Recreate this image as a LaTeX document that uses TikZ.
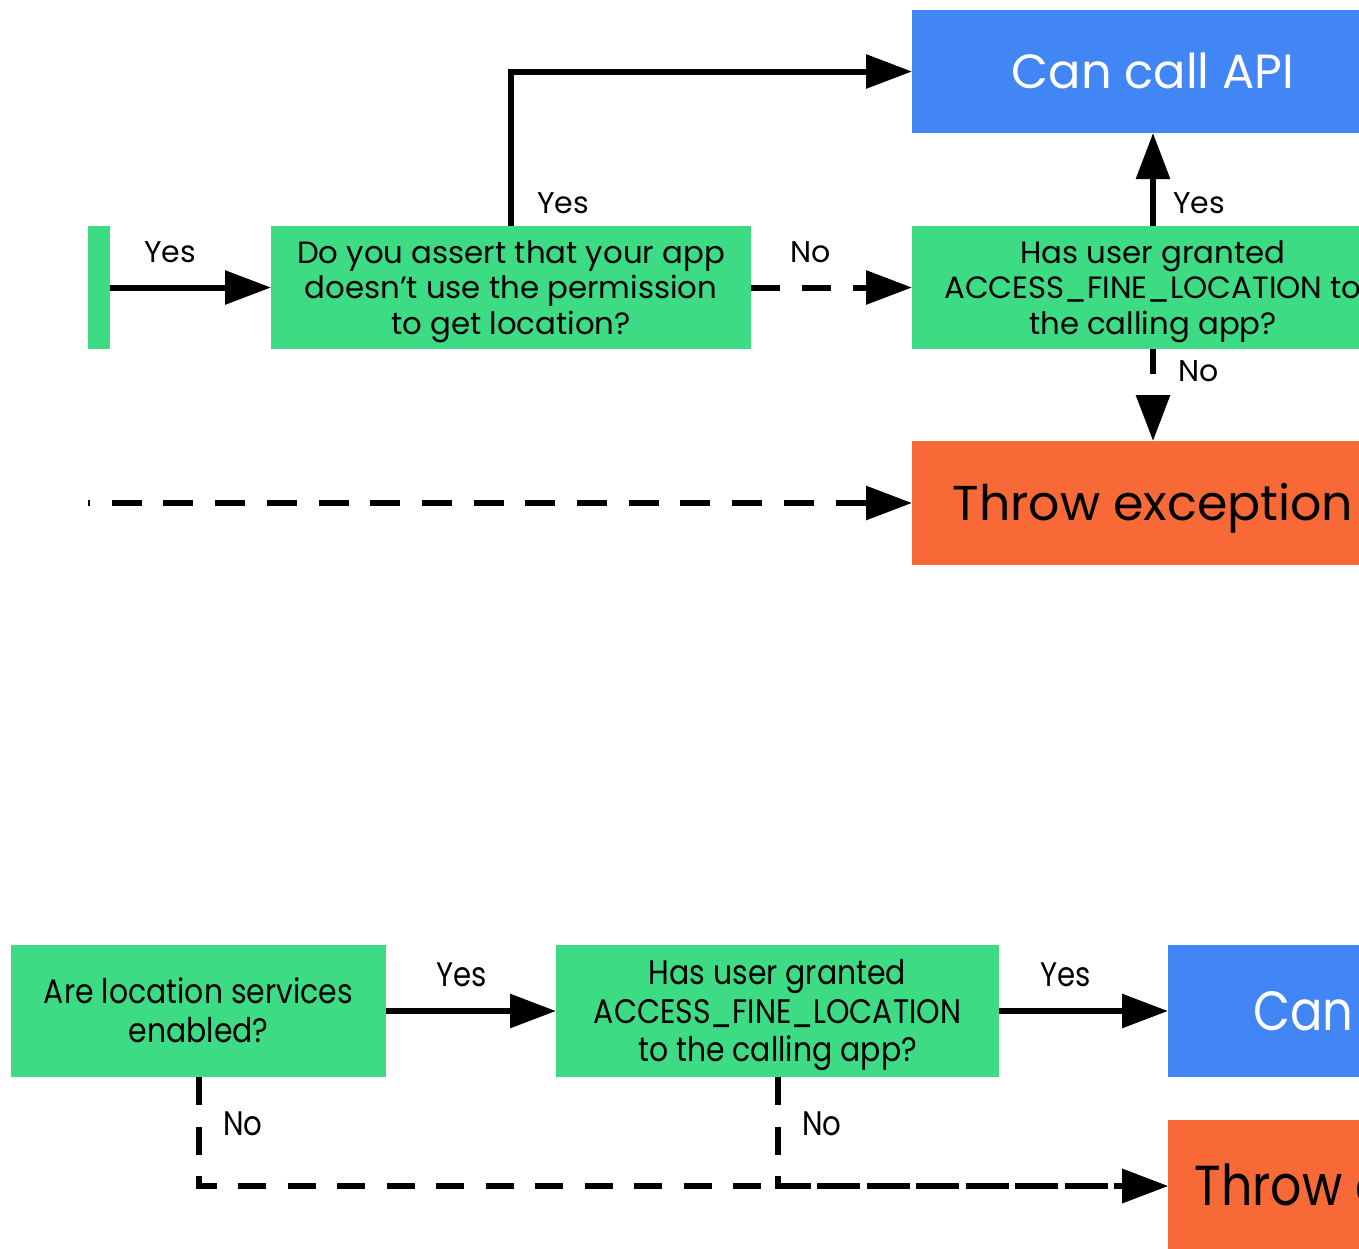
\documentclass[tikz,border=0pt]{standalone}
\usepackage{fontspec}
\setmainfont{Poppins}
\usetikzlibrary{arrows.meta}
\definecolor{dgreen}{HTML}{3DDC84}
\definecolor{dblue}{HTML}{4285F4}
\definecolor{dorange}{HTML}{F76936}

% upper chart text blocks, lowered onto the cap line (reported size kept)
\newcommand{\toplines}[1]{\raisebox{-4pt}[\height][\depth]{\fontsize{30.8}{35.5}\selectfont\begin{tabular}{@{}c@{}}#1\end{tabular}}}
% lower chart uses a taller, condensed face
\newcommand{\botlines}[1]{\raisebox{-4.5pt}[\height][\depth]{\scalebox{0.88}[1]{\fontsize{34}{38.5}\selectfont\begin{tabular}{@{}c@{}}#1\end{tabular}}}}
\newcommand{\botlabel}[1]{\scalebox{0.86}[1]{\fontsize{34}{38.5}\selectfont #1}}
\newcommand{\botbig}[2]{\scalebox{0.87}[1]{\fontsize{#1}{60}\selectfont #2}}

\begin{document}
\begin{tikzpicture}[x=1pt, y=-1pt,
  box/.style={inner sep=0pt, outer sep=0pt, draw=none, align=center},
  decision/.style={box, fill=dgreen},
  flow/.style={line width=6pt, -{Triangle[length=46pt,width=33pt]}},
  dashflow/.style={flow, dash pattern=on 29pt off 22pt},
  lbl/.style={inner sep=0pt, font=\fontsize{30}{36}\selectfont, text height=21pt, text depth=0pt},
  blbl/.style={inner sep=0pt, text height=23.8pt, text depth=0pt}]
\useasboundingbox (0,0) rectangle (1359,1248);
\clip (0,0) rectangle (1359,1248);

% ---------- upper chart ----------
\node[box, fill=dgreen, minimum width=22pt, minimum height=123pt] (prev) at (99,287.5) {};
\node[decision, minimum width=480pt, minimum height=123pt] (assert) at (511,287.5)
  {\toplines{Do you assert that your app\\doesn’t use the permission\\to get location?}};
\node[decision, minimum width=482pt, minimum height=123pt] (fine) at (1153,287.5)
  {\toplines{Has user granted\\ACCESS\_FINE\_LOCATION to\\the calling app?}};
\node[box, fill=dblue, text=white, font=\fontsize{48}{56}\selectfont, text height=33.6pt, text depth=0pt,
  minimum width=482pt, minimum height=123pt] (api) at (1153,71.5) {Can call API};
\node[box, fill=dorange, font=\fontsize{49}{56}\selectfont, text height=34.3pt, text depth=0pt,
  minimum width=482pt, minimum height=124pt] (throw) at (1153,503) {Throw exception};
\coordinate (inlet) at (88,503);

\draw[flow] (prev.east) -- (assert.west);
\draw[flow] (assert.north) |- (api.west);
\draw[dashflow] (assert.east) -- (fine.west);
\draw[flow] (fine.north) -- (api.south);
\draw[flow, dash pattern=on 25pt off 22pt] (fine.south) -- (throw.north);
\draw[dashflow, dash pattern=on 30pt off 21.7pt, dash phase=28pt] (inlet) -- (throw.west);

\node[lbl] (l1) at (170,252) {Yes};
\node[lbl] (l2) at (563,203) {Yes};
\node[lbl] (l3) at (811,252) {No};
\node[lbl] (l4) at (1199,203) {Yes};
\node[lbl] (l5) at (1199,371) {No};

% ---------- lower chart ----------
\node[decision, minimum width=375pt, minimum height=132pt] (enabled) at (198.5,1011)
  {\botlines{Are location services\\enabled?}};
\node[decision, minimum width=443pt, minimum height=132pt] (fine2) at (777.5,1011)
  {\botlines{Has user granted\\ACCESS\_FINE\_LOCATION\\to the calling app?}};
\node[box, fill=dblue, text=white, text height=38.6pt, text depth=0pt,
  minimum width=454pt, minimum height=132pt] (api2) at (1395,1011) {\botbig{55.2}{Can call API}};
\node[box, fill=dorange, text height=39.5pt, text depth=0pt,
  minimum width=454pt, minimum height=132pt] (throw2) at (1395,1186) {\botbig{56.4}{Throw exception}};

\draw[flow] (enabled.east) -- (fine2.west);
\draw[flow] (fine2.east) -- (api2.west);
\draw[flow, dash pattern=on 28pt off 21.5pt] (enabled.south) |- (throw2.west);
\draw[flow, dash pattern=on 28pt off 21.5pt] (fine2.south) |- (throw2.west);

\node[blbl] (m1) at (462,975) {\botlabel{Yes}};
\node[blbl] (m2) at (1066,975) {\botlabel{Yes}};
\node[blbl] (m3) at (243,1124) {\botlabel{No}};
\node[blbl] (m4) at (822,1124) {\botlabel{No}};
\end{tikzpicture}
\end{document}
